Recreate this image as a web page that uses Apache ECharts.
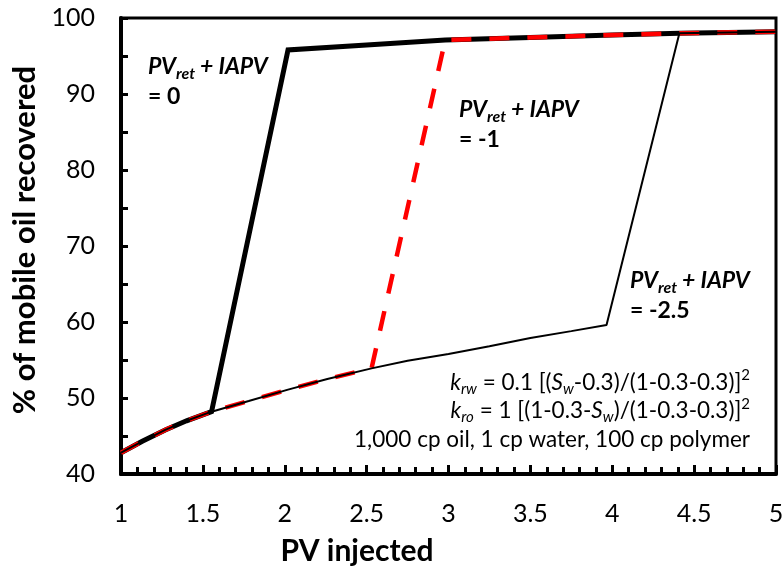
<!DOCTYPE html>
<html>
<head>
<meta charset="utf-8">
<script src="https://cdn.jsdelivr.net/npm/echarts@6/dist/echarts.min.js"></script>
<style>
  html, body { margin: 0; padding: 0; background: #fff; }
  #chart { width: 782px; height: 569px; }
</style>
</head>
<body>
<div id="chart"></div>
<script>
// Waterflood recovery before polymer arrives (shared lower curve)
const pvInjected = [1, 1.13, 1.27, 1.4, 1.553, 1.78, 2.02, 2.26, 2.53, 2.75, 3.0, 3.25, 3.5, 3.75, 3.965];
const waterfloodRecovery = [42.8, 44.3, 45.8, 47.0, 48.2, 49.6, 51.1, 52.5, 53.9, 54.9, 55.8, 56.8, 57.9, 58.8, 59.6];

// Recovery after polymer breakthrough (shared upper curve)
const polymerPV = [2.02, 2.5, 2.98, 3.5, 4.0, 4.41, 5.0];
const polymerRecovery = [95.8, 96.45, 97.1, 97.45, 97.75, 98.0, 98.2];

// Where each case leaves the lower curve and joins the upper one
const cases = [
  { name: 'PVret + IAPV = 0',    lastLower: 1.553, firstUpper: 2.02 },
  { name: 'PVret + IAPV = -1',   lastLower: 2.53,  firstUpper: 2.98 },
  { name: 'PVret + IAPV = -2.5', lastLower: 3.965, firstUpper: 4.41 }
];

const xTicks = [1, 1.5, 2, 2.5, 3, 3.5, 4, 4.5, 5];
const yTicks = [40, 50, 60, 70, 80, 90, 100];

function buildCase(c) {
  const pts = [];
  pvInjected.forEach((x, i) => { if (x <= c.lastLower) pts.push([x, waterfloodRecovery[i]]); });
  polymerPV.forEach((x, i) => { if (x >= c.firstUpper) pts.push([x, polymerRecovery[i]]); });
  return pts;
}

const FONT = 'Lato, "Open Sans", sans-serif';
const chart = echarts.init(document.getElementById('chart'), null, { renderer: 'canvas' });

const annRich = {
  b: { fontFamily: FONT, fontWeight: 'bold', fontStyle: 'italic', fontSize: 23, lineHeight: 30 },
  s: { fontFamily: FONT, fontWeight: 'bold', fontStyle: 'italic', fontSize: 16, lineHeight: 12, verticalAlign: 'bottom' },
  n: { fontFamily: FONT, fontWeight: 'bold', fontSize: 23, lineHeight: 31 }
};
function annotation(x, y, value) {
  return {
    type: 'text', left: x, top: y, z: 100,
    style: {
      text: '{b|PV}{s|ret}{b| + IAPV}\n{n|= ' + value + '}',
      rich: annRich, fill: '#000'
    }
  };
}

// Right-aligned relative-permeability note (each token right-aligned so lines end flush)
const fRich = {
  r:  { fontFamily: FONT, fontSize: 22.5, lineHeight: 28.5, align: 'right' },
  ki: { fontFamily: FONT, fontSize: 22.5, fontStyle: 'italic', lineHeight: 28.5, align: 'right' },
  sub:{ fontFamily: FONT, fontSize: 15, fontStyle: 'italic', lineHeight: 12, verticalAlign: 'bottom', align: 'right' },
  sup:{ fontFamily: FONT, fontSize: 15, lineHeight: 14, verticalAlign: 'top', align: 'right' }
};

const option = {
  animation: false,
  backgroundColor: '#fff',
  grid: { left: 121, top: 18, width: 655, height: 456, outerBoundsMode: 'none',
          show: true, borderColor: '#000', borderWidth: 3, backgroundColor: 'transparent' },
  xAxis: {
    type: 'value', min: 1, max: 5, interval: 0.5,
    name: 'PV injected', nameLocation: 'middle', nameGap: 62,
    nameTextStyle: { fontFamily: FONT, fontWeight: 'bold', fontSize: 30, color: '#000', padding: [0, 183, 0, 0] },
    axisLine: { show: true, onZero: false, lineStyle: { color: '#000', width: 4 } },
    axisTick: { show: true, inside: true, length: 9, lineStyle: { color: '#000', width: 3 } },
    minorTick: { show: true, splitNumber: 5, length: 7, lineStyle: { color: '#000', width: 3 } },
    splitLine: { show: false },
    axisLabel: { fontFamily: FONT, fontSize: 25, color: '#000', margin: 27,
      formatter: v => xTicks.includes(v) ? String(v) : '' }
  },
  yAxis: {
    type: 'value', min: 40, max: 100, interval: 10,
    name: '% of mobile oil recovered', nameLocation: 'middle', nameGap: 58,
    nameTextStyle: { fontFamily: FONT, fontWeight: 'bold', fontSize: 31, color: '#000', padding: [0, 0, 0, 12] },
    axisLine: { show: true, onZero: false, lineStyle: { color: '#000', width: 4 } },
    axisTick: { show: true, inside: true, length: 7, lineStyle: { color: '#000', width: 3 } },
    minorTick: { show: true, splitNumber: 2, length: 7, lineStyle: { color: '#000', width: 3 } },
    splitLine: { show: false },
    axisLabel: { fontFamily: FONT, fontSize: 25, color: '#000', margin: 26,
      formatter: v => yTicks.includes(v) ? String(v) : '' }
  },
  series: [
    { name: cases[0].name, type: 'line', data: buildCase(cases[0]), showSymbol: false, z: 2,
      lineStyle: { color: '#000', width: 5, join: 'miter' } },
    { name: cases[1].name, type: 'line', data: buildCase(cases[1]), showSymbol: false, z: 3,
      lineStyle: { color: '#ff0000', width: 4.5, type: [20, 18], cap: 'butt' } },
    { name: cases[2].name, type: 'line', data: buildCase(cases[2]), showSymbol: false, z: 4,
      lineStyle: { color: '#000', width: 2 } }
  ],
  graphic: [
    annotation(148, 55, '0'),
    annotation(459, 98, '-1'),
    annotation(630, 269, '-2.5'),
    {
      type: 'text', right: 32, top: 368, z: 100,
      style: {
        text: '{ki|k}{sub|rw}{r| = 0.1 [(}{ki|S}{sub|w}{r|-0.3)/(1-0.3-0.3)]}{sup|2}\n' +
              '{ki|k}{sub|ro}{r| = 1 [(1-0.3-}{ki|S}{sub|w}{r|)/(1-0.3-0.3)]}{sup|2}\n' +
              '{r|1,000 cp oil, 1 cp water, 100 cp polymer}',
        rich: fRich, align: 'right', fill: '#000'
      }
    }
  ]
};
chart.setOption(option);
</script>
</body>
</html>
